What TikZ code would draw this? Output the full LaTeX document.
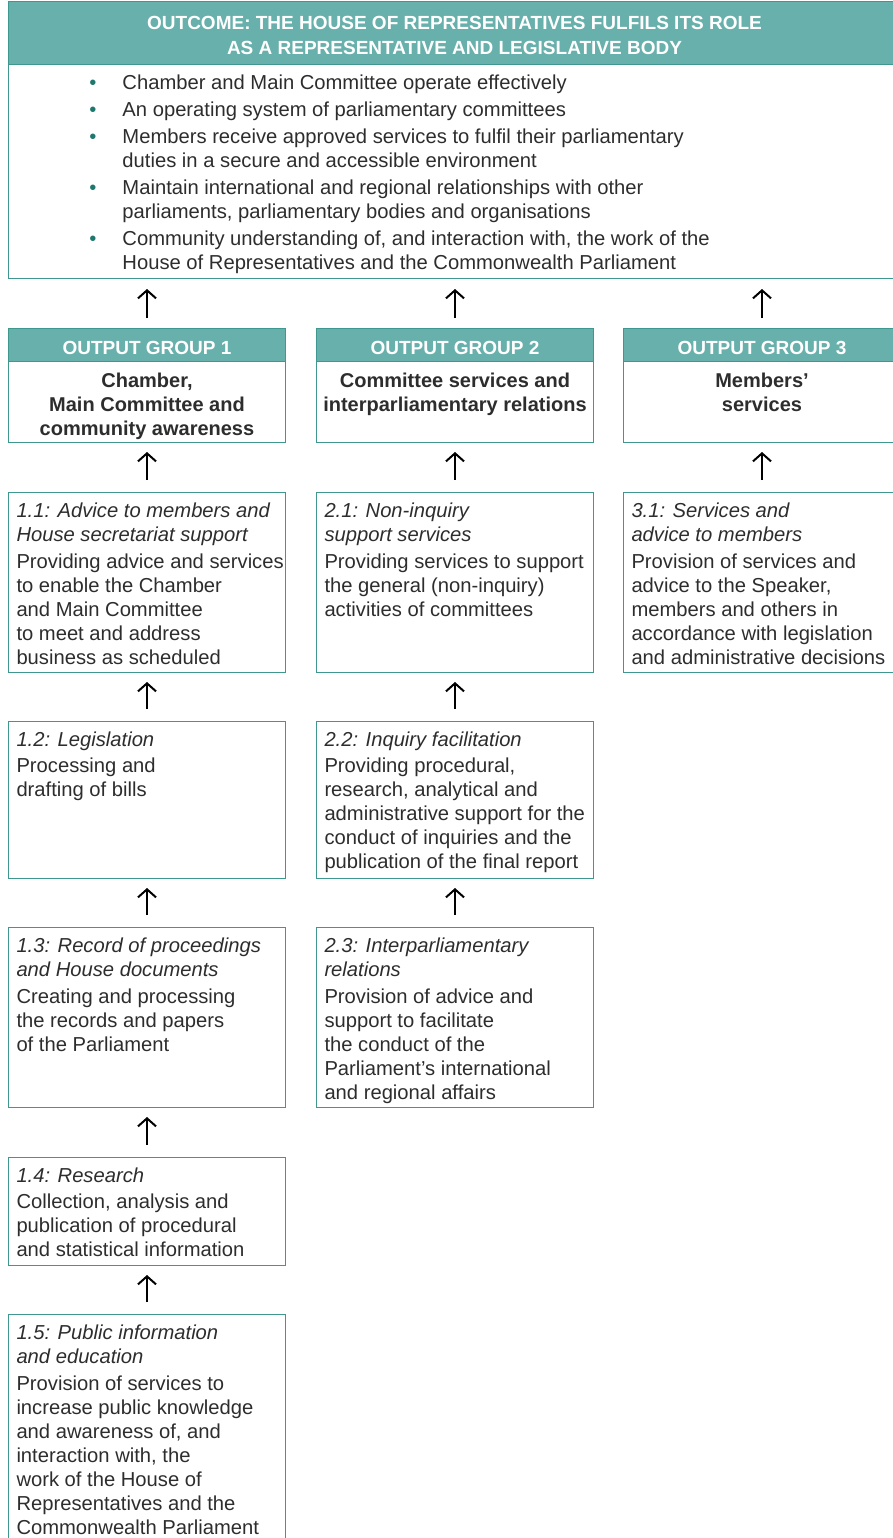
\documentclass[tikz,border=0pt]{standalone}
\usepackage{fontspec}
\usepackage{enumitem}
\usetikzlibrary{arrows.meta}
\setmainfont{Liberation Sans}
\definecolor{tealfill}{RGB}{104,176,172}
\definecolor{tealline}{RGB}{62,152,144}
\definecolor{tealdot}{RGB}{30,120,110}
\definecolor{bodygrey}{RGB}{45,45,45}

\newcommand{\subtxt}[3]{\parbox[t][#1][t]{261pt}{\vspace*{8pt}%
  {\itshape\begin{tabular}[t]{@{}l@{}}#2\end{tabular}}\par\vspace{2pt}%
  \begin{tabular}[t]{@{}l@{}}#3\end{tabular}}}

\tikzset{
  headbox/.style={anchor=north west, fill=tealfill, draw=tealline, line width=1pt, text=white, inner sep=0pt,
    font=\bfseries\fontsize{19}{25}\selectfont},
  groupbox/.style={anchor=north west, draw=tealline, line width=1pt, inner sep=0pt, text=bodygrey,
    font=\bfseries\fontsize{20}{24}\selectfont},
  sub/.style={anchor=north west, draw=tealline, line width=1pt, inner xsep=8pt, inner ysep=0pt, text=bodygrey,
    font=\fontsize{20.2}{24}\selectfont},
  up/.style={line width=2pt, -{Straight Barb[length=8pt,width=18pt]}, shorten <=12pt, shorten >=9pt},
}

\begin{document}
\begin{tikzpicture}[x=1pt,y=-1pt]
\useasboundingbox (0,0) rectangle (892,1538);

% outcome
\node[headbox] (outh) at (8,1) {\parbox[t][63pt][t]{892pt}{\centering\vspace*{15pt}%
  OUTCOME: THE HOUSE OF REPRESENTATIVES FULFILS ITS ROLE\\AS A REPRESENTATIVE AND LEGISLATIVE BODY}};
\node[sub, inner sep=0pt] (outb) at (8,64) {\parbox[t][214pt][t]{892pt}{\vspace*{10pt}%
  \begin{itemize}[leftmargin=114pt,labelsep=26pt,itemsep=3pt,parsep=0pt,topsep=0pt,partopsep=0pt,
    label={\color{tealdot}\textbullet}]
  \item Chamber and Main Committee operate effectively
  \item An operating system of parliamentary committees
  \item Members receive approved services to fulfil their parliamentary\\duties in a secure and accessible environment
  \item Maintain international and regional relationships with other\\parliaments, parliamentary bodies and organisations
  \item Community understanding of, and interaction with, the work of the\\House of Representatives and the Commonwealth Parliament
  \end{itemize}}};

% output groups
\node[headbox, minimum width=277pt, minimum height=33pt, text height=18.6pt] (g1h) at (8,328) {OUTPUT GROUP 1};
\node[headbox, minimum width=277pt, minimum height=33pt, text height=18.6pt] (g2h) at (316,328) {OUTPUT GROUP 2};
\node[headbox, minimum width=277pt, minimum height=33pt, text height=18.6pt] (g3h) at (623,328) {OUTPUT GROUP 3};
\node[groupbox] (g1) at (8,361) {\parbox[t][81pt][t]{277pt}{\centering\vspace*{12pt}Chamber,\\Main Committee and\\community awareness}};
\node[groupbox] (g2) at (316,361) {\parbox[t][81pt][t]{277pt}{\centering\vspace*{12pt}Committee services and\\interparliamentary relations}};
\node[groupbox] (g3) at (623,361) {\parbox[t][81pt][t]{277pt}{\centering\vspace*{12pt}Members'\\services}};

% column 1
\node[sub] (s11) at (8,492) {\subtxt{180pt}{1.1: Advice to members and\\House secretariat support}
  {Providing advice and services\\to enable the Chamber\\and Main Committee\\to meet and address\\business as scheduled}};
\node[sub] (s12) at (8,721) {\subtxt{157pt}{1.2: Legislation}
  {Processing and\\drafting of bills}};
\node[sub] (s13) at (8,927) {\subtxt{180pt}{1.3: Record of proceedings\\and House documents}
  {Creating and processing\\the records and papers\\of the Parliament}};
\node[sub] (s14) at (8,1157) {\subtxt{108pt}{1.4: Research}
  {Collection, analysis and\\publication of procedural\\and statistical information}};
\node[sub] (s15) at (8,1314) {\subtxt{240pt}{1.5: Public information\\and education}
  {Provision of services to\\increase public knowledge\\and awareness of, and\\interaction with, the\\work of the House of\\Representatives and the\\Commonwealth Parliament}};

% column 2
\node[sub] (s21) at (316,492) {\subtxt{180pt}{2.1: Non-inquiry\\support services}
  {Providing services to support\\the general (non-inquiry)\\activities of committees}};
\node[sub] (s22) at (316,721) {\subtxt{157pt}{2.2: Inquiry facilitation}
  {Providing procedural,\\research, analytical and\\administrative support for the\\conduct of inquiries and the\\publication of the final report}};
\node[sub] (s23) at (316,927) {\subtxt{180pt}{2.3: Interparliamentary\\relations}
  {Provision of advice and\\support to facilitate\\the conduct of the\\Parliament's international\\and regional affairs}};

% column 3
\node[sub] (s31) at (623,492) {\subtxt{180pt}{3.1: Services and\\advice to members}
  {Provision of services and\\advice to the Speaker,\\members and others in\\accordance with legislation\\and administrative decisions}};

% arrows
\foreach \g in {g1h,g2h,g3h}
  \draw[up, shorten <=10pt, shorten >=10pt] (\g.north) -- (\g.north |- outb.south);
\foreach \a/\b in {s11/g1,s21/g2,s31/g3,s12/s11,s13/s12,s14/s13,s15/s14,s22/s21,s23/s22}
  \draw[up] (\a.north) -- (\b.south);
\end{tikzpicture}
\end{document}
